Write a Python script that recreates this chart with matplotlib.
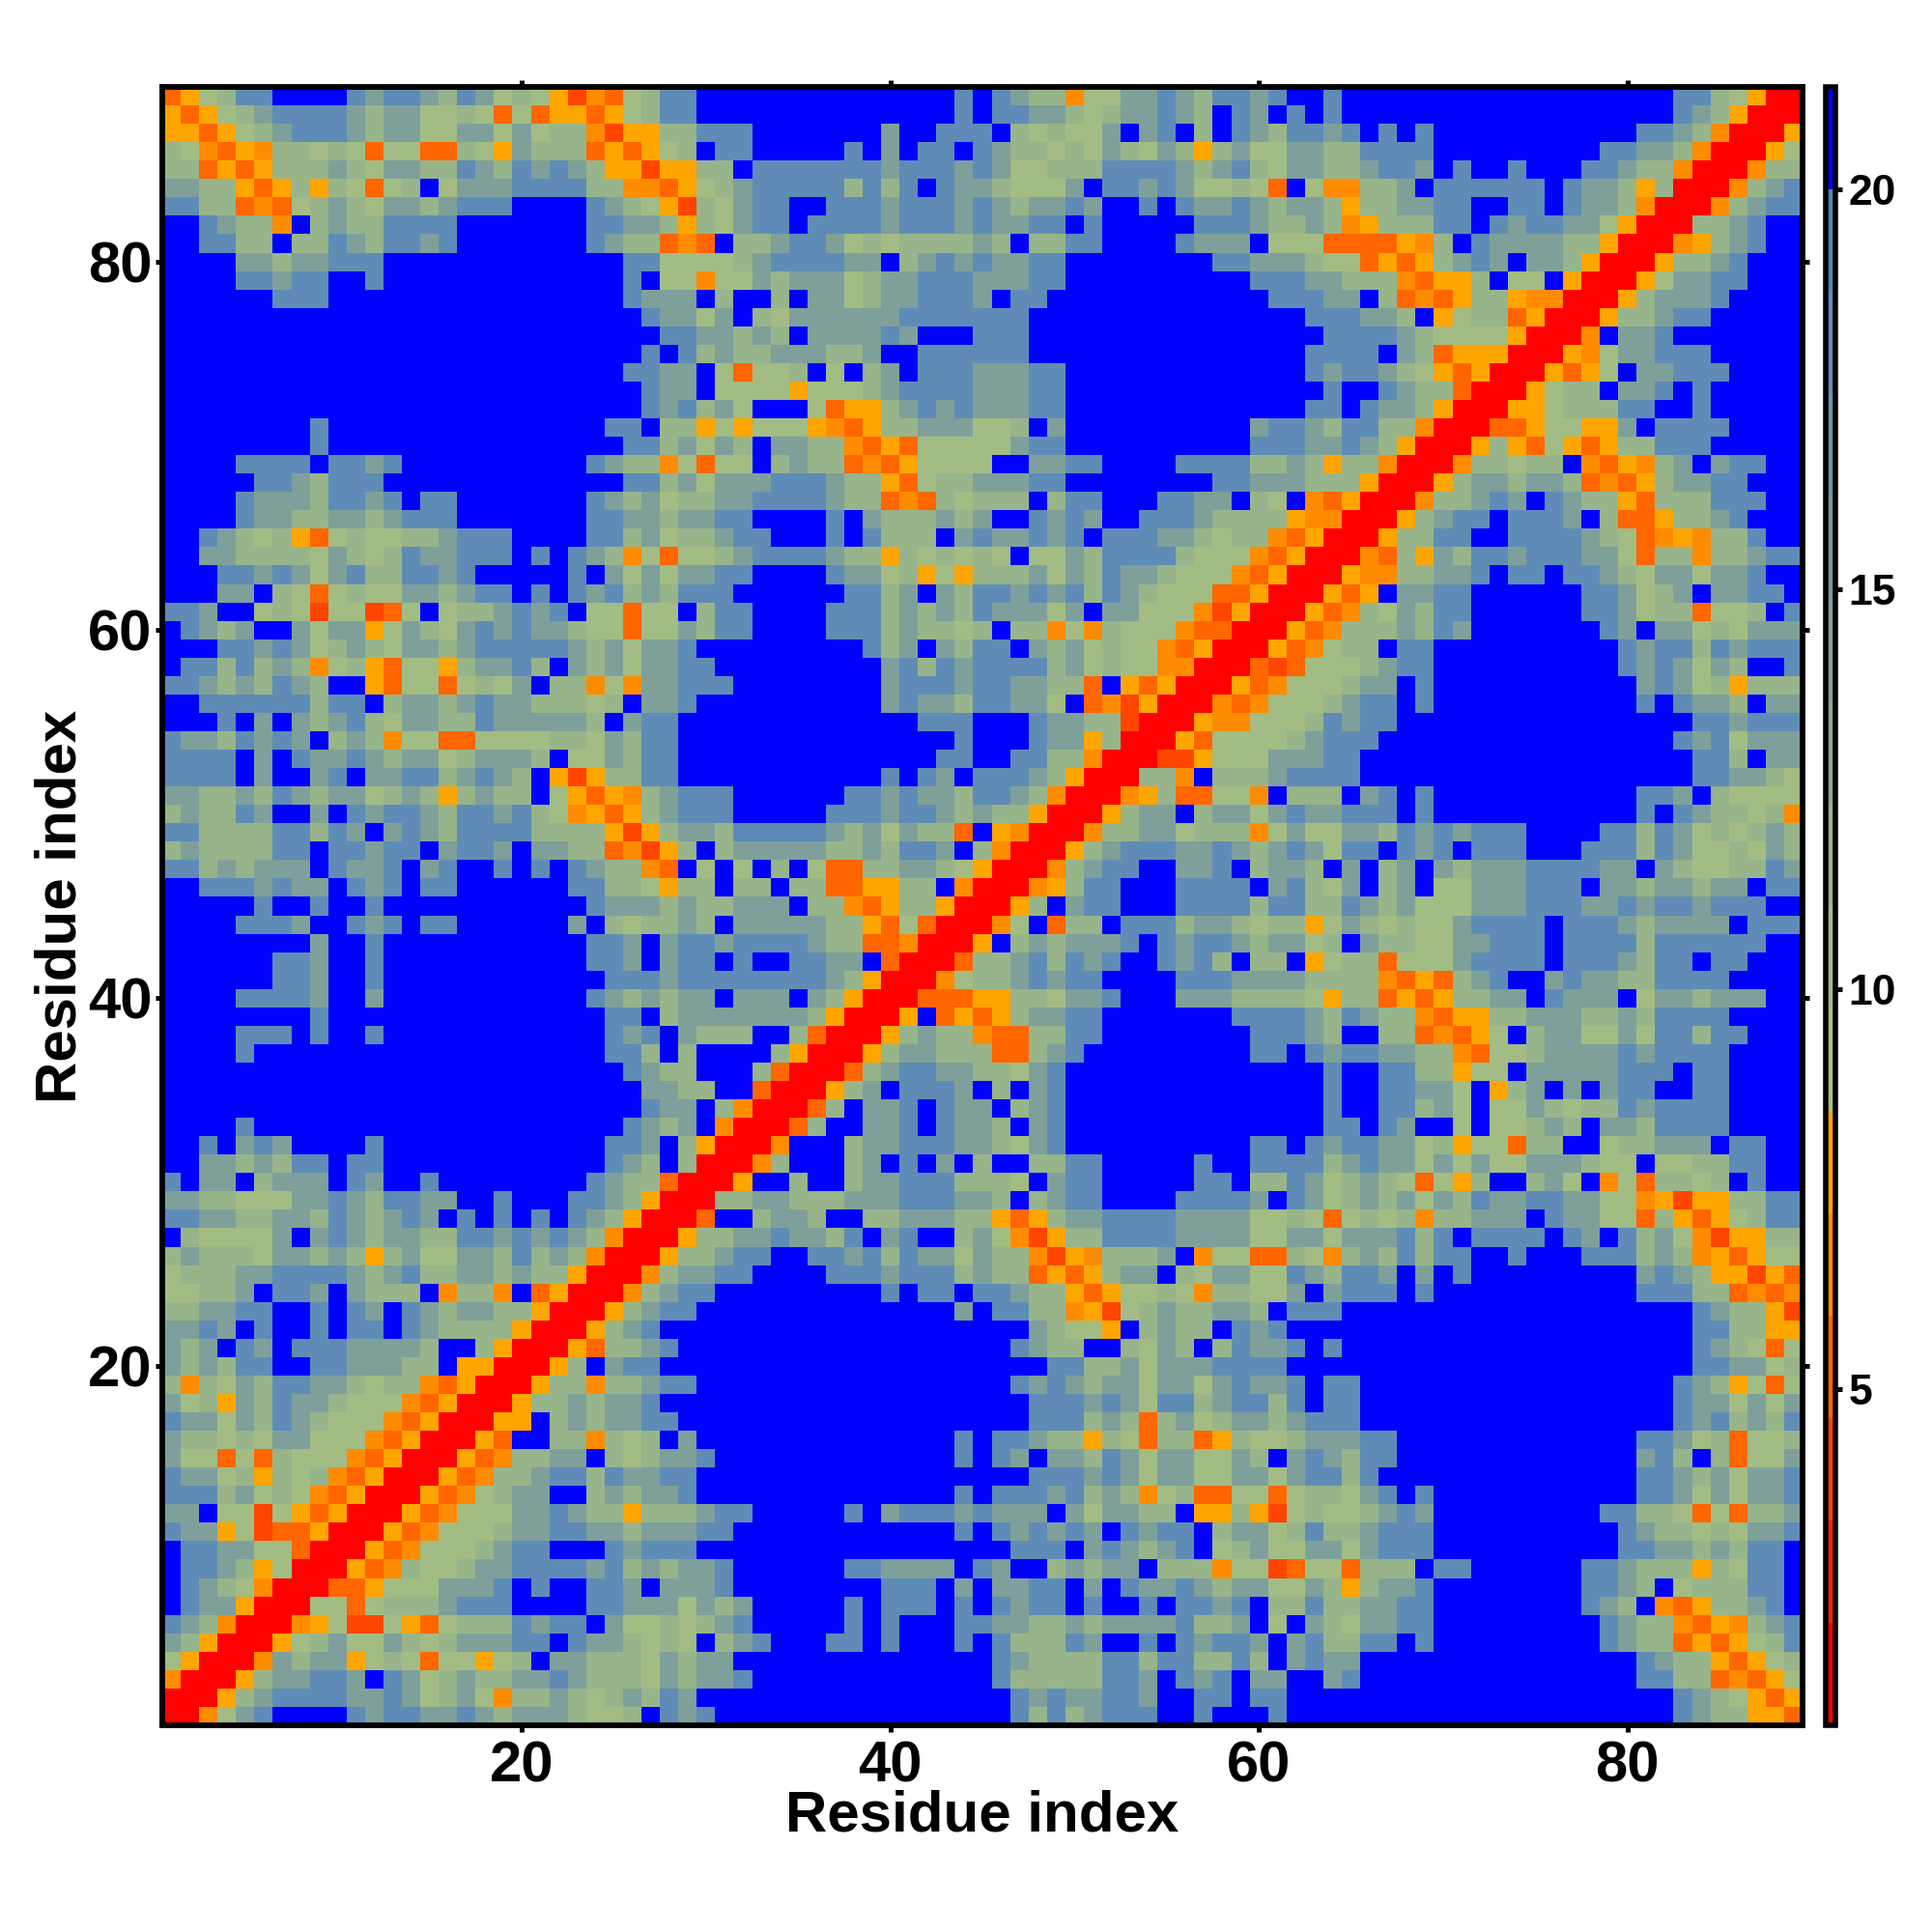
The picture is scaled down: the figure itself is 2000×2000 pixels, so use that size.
import numpy as np
import matplotlib

matplotlib.use("Agg")
import matplotlib.pyplot as plt
from matplotlib.colors import BoundaryNorm, ListedColormap

plt.rcParams["font.family"] = ["Liberation Sans", "DejaVu Sans"]
plt.rcParams["font.weight"] = "bold"

# 距離クラス (上三角のみ: 行89から行1へ、各行は列1..行番号)
# r/e/d/o/a = 赤〜橙, g/h/m/s = 緑〜青灰, . = 青
d = ".........."
tri_rows = [
    "daghss.... smssmhsmgh gaeodghss. " + d + " ...s.smhho ggmmsmhssm s..s...... " + d + " ..sshgarr",
    "adaghmssss mhmmgghgdg daadaghss. " + d + " ...s.ssmmh ghmmsmh.sm .s.s...... " + d + " ..smharr",
    "aadaghmsss mhmmggmmgm ghhoeaahhs ss.......m ..sss.hghg gm.ms.h.sm hssms.s.s. " + d + " ssmhorr",
    "hgodaohhgh gdggddhgam hhhdadagh. ss.....s.m .ss.smhhgh gmhgmhahmg gmmhhssss. ........ss mmhorr",
    "hhdadahhhm hgmmhhsmhs msmhaaeaah h.sssssssm sssmsmgghh hssssmhmsh gmmhhmssm. s..s...ssm hhorr",
    "mmhhadahah gdgh.gmmms ssshhoodag hmssssshsh s.smmhgggm .ssmsmgghg d.goohhm.s sssss.smmh ahrr",
    "sshhdodghm hgmmhmsss. ...smhgaeh gmss..sssm sssmsmhmms m..s.smmsm hmmhahhmms s..ss.smmh orr",
    "..smhho.hm hhssss.... ...ssmmhah gmss.ssssm sssmsmmss. s.....sssm hhmhoahhhs s.smssmmga rr",
    "..sshh.hhs mhssms.... ...smhhdod .hhmssmghg hhhhmh.hhs s....smmm. gggddddaoh .smmmmhhar r",
    "....mmhmms ss........ .....ssggg ghmssssmm. hmsmsmmss. .......ssm mmhggdadah msm.mmharr",
    "....ssmss. .s........ .....s.ggo ggmhmmmghm msssmmmss. .........s ssmmhhhoda ah.gg.arr",
    "......sss. " + d + " .....smmm. h..h.mmghm msssm.ss.. " + d + " sssmm.hdod ahhaoorr",
    d + " " + d + " ......smmg m.hgmmmmmm sssssss... " + d + " ..sssmmh.a ghhdarr",
    d + " " + d + " .......ssm mhmh.mmmms m...sss... " + d + " ...ssssmhg gggarr",
    d + " " + d + " ......s.sh mhhmmmhhm. .ssssss... " + d + " ..ssss.mhd aaarr",
    d + " " + d + " .....ssmm. gdggh.g.hm .sssmmmss. " + d + " ..smssmhga darr",
    d + " " + d + " ......smm. ggggaggghm ssssmmmss. " + d + " ...s..smhh drr",
    d + " " + d + " ......smsh mg...gdaah msmsmmmss. " + d + " ..ss.smmha rr",
    "........s. " + d + " ....ss.hha gagggaodah hmmmggh.m. .........m ssmhsshhor r",
    "........s. " + d + " .....sshmg mh.mmhhoda dgggggmss. .........s ssmmsmharr",
    "....ssss.s sms....... ...smhhogd gg.hmhhdod agggg..mms s....ssssh hmhahhorr",
    ".....ssmhs ss........ .....sshmg mmmsssmhha dghhmmmss. .......ssm mmhhharr",
    "....smmmhs sms.ss.... ...smhmghh mmssssmhhd odhghhh.hs s...ssmm.h g.odarr",
    "....smmhhm mhmsss.... ...ssmmhmm ss....s.mh hhmhm..sms m..sssmhhh haoorr",
    "..smhghadg hgghhmsss. ...sshmghh mss...s.sh hh.msmmsms .sssmmhghh odarr",
    "..mmhhhhgm hghsmmsss. s.smhogdgg hmssssmhha hghghg.ggm hsssshgggo darr",
    "...ssmsmgm shhssms... ..s.mgmgmm ss....smmg hagahhhmgm hsmmhgggod arr",
    "...mm.hgdg hggmmhmss. s.smshmhss s......ssh m.mhssmsms hsmhgggdda rr",
    "ssm..ghgeg gedg.ghhms ms.ggdgg.h ss....sssh mhmhsmmmgm .mmgggoear r",
    ".smhm..mgm magmhgmsms mmhggdggmh ss....sssh mhhgh.hhog ohgggoddrr",
    "...ssmsmgh mhgmmhmsss ssmhmgmms. ........sh m.mhss.mhm ghggodarr",
    ".sshshmhog hadggahmms h.mhmgmmss .........m shsmsssshm ghggoorr",
    "ssmhmhsmh. .adggdghgm .hhogommss s........m sssmssmmhh d.adarr",
    "..sssssshs s.hmmhmsmm hhhgh.mms. .........m smmhssmmg. doearr",
    "...s.m.mhm shgmmhhsmm mmmh.mss.. " + d + " .sss...smm hherr",
    "smmhsmsm.h mhoggddggg ghhgmhss.. " + d + " ...s...smm ahrr",
    "ssss.m.smm smhmmghmmm h.ggmhss.. " + d + " ..ss..sshh orr",
    "ssss.m..ms .mmsshmsmh .aeahhss.. .........s .sm.sssmha rr",
    "mmhhmhsmhm mghmhahmhh .gadaohmss s......ssm smmhssmhor r",
    "hmhhsm..m. smssmhssms hgoadahmss s.....sssm ssmhmhharr",
    "sshhhhsshs m.msmhssss hhhhaeahmm hsssssmhmg mhhd.aorr",
    "hmhhhhss.s smss.mssm. mmhhdoeah. hmmmmmhhmh ssm.horr",
    "sshmhmmm.s mms.ms..s. s.smhhod.g .g.h.gddhh mmhgarr",
    "..sssmsmm. sms.ss.... ..sshhgahh .hh.hhddaa hh.orr",
    ".....s..s. .s........ ...smmmhmh hmmm.hhoda hharr",
    "....sssm.. sms.ss.... ..m.hghhmh .mmmmmhhad gdrr",
    "........m. .s........ ...ssm.mss mssssmhhdd orr",
    "......ssm. .s........ ...ssm.mss .s..ssmm.d rr",
    "......ssm. .s........ ....sssmss ssssssmhar r",
    "....ssssm. .m........ ...smhmhmm .mmm.mharr",
    "........s. " + d + " ....ss.hmm mmmmmharr",
    "....sss.s. .s........ ....sms.mh hh..hdrr",
    "....s..... " + d + " ....ssh.h. ...harr",
    d + " " + d + " .....smhh. ..hdrr",
    d + " " + d + " ......mmhh ..drr",
    d + " " + d + " ......smm. horr",
    "....s..... " + d + " .....smhm. orr",
    "..s.msm... .s........ ....ssm.ha rr",
    "..mmhmhss. ss........ ....smh.hr r",
    "s.mm.hmmm. sm..s..... ...smhhdrr",
    "mmhhgggmms mhssmm..s. ..ssmharr",
    "ssmmhhmmhs mhmsm.s.s. s.smharr",
    ".hggggm.ms mhmmhhssms msmhorr",
    "hmhhhgmmhm hahmggmmhs hmhorr",
    "ghhhmmssss mhmshhmmhm hharr",
    "gghhm.ssm. mhhh.ohho. darr",
    "hhmmss..s. sm.smhmmhh arr",
    "mmsm.s..s. ss.smhhhha rr",
    "mhm.sm.sss mmmmh..har r",
    "mhmhss..ss mmmhh.aarr",
    "hohgmhssmm hghhodarr",
    "mghamhsmmh gggodarr",
    "smmgmhsmhg ggodarr",
    "mhhghgmmgg godarr",
    "mggdgdhggg odarr",
    "smmghahgho darr",
    "ssshmghgod arr",
    "mm.ggegada rr",
    "smmageddar r",
    ".ssmmggdrr",
    ".ssmhagrr",
    ".smhgorr",
    ".smmarr",
    "smhorr",
    "mharr",
    "garr",
    "orr",
    "rr",
    "r",
]

class_values = {"r": 2.0, "e": 4.0, "d": 5.3, "o": 6.5, "a": 7.8, "g": 10.4, "h": 11.8, "m": 14.3, "s": 18.0, ".": 21.0}
levels = [0.795, 2.075, 3.355, 4.635, 5.915, 7.195, 8.475, 9.755, 11.035, 12.315, 13.595, 14.875, 16.155, 17.435, 18.715, 19.995, 21.275]
level_colors = [
    "#FF0000", "#FF2200", "#FF4500", "#FF6600", "#FF8C00", "#FFA500",
    "#A8C080", "#A2BC84", "#98B48A", "#8AAA90", "#7FA09A", "#759AA2",
    "#6B94AC", "#5F8CB6", "#5682BC", "#0000FF",
]
ticks = [20, 40, 60, 80]
bar_ticks = [5, 10, 15, 20]

# 上三角を折り返して対称行列にする
matrix = np.zeros((89, 89))
for i, row in enumerate(tri_rows):
    y = 89 - i
    cells = row.replace(" ", "")
    for x, c in enumerate(cells, start=1):
        matrix[y - 1, x - 1] = class_values[c]
        matrix[x - 1, y - 1] = class_values[c]

cmap = ListedColormap(level_colors)
norm = BoundaryNorm(levels, cmap.N)

fig = plt.figure(figsize=(10, 10), dpi=200)
ax = fig.add_axes([168 / 2000, 1 - 1786 / 2000, (1866 - 168) / 2000, (1786 - 90) / 2000])
edges = np.arange(0.5, 90.5)
mesh = ax.pcolormesh(edges, edges, matrix, cmap=cmap, norm=norm, linewidth=0, antialiased=False)

ax.set_xlim(0.5, 89.5)
ax.set_ylim(0.5, 89.5)
ax.set_xticks(ticks)
ax.set_yticks(ticks)
ax.tick_params(top=True, right=True, length=2.6, width=1.8, labelsize=21.5)
ax.tick_params(axis="x", pad=3)
ax.tick_params(axis="y", pad=1.2)
for side in ax.spines.values():
    side.set_linewidth(2.1)
ax.set_xlabel("Residue index", fontsize=21.6, fontweight="bold")
ax.set_ylabel("Residue index", fontsize=21.6, fontweight="bold")
ax.xaxis.set_label_coords(0.5, -0.0395)
ax.yaxis.set_label_coords(-0.0455, 0.5)

cax = fig.add_axes([1889.5 / 2000, 1 - 1786 / 2000, 11 / 2000, (1786 - 90) / 2000])
cb = fig.colorbar(mesh, cax=cax, ticks=bar_ticks, spacing="proportional")
cb.outline.set_linewidth(2.0)
cb.ax.tick_params(length=2.6, width=1.8, labelsize=16, pad=2)
cb.ax.minorticks_off()

fig.savefig("out.png", dpi=200)
plt.close(fig)
